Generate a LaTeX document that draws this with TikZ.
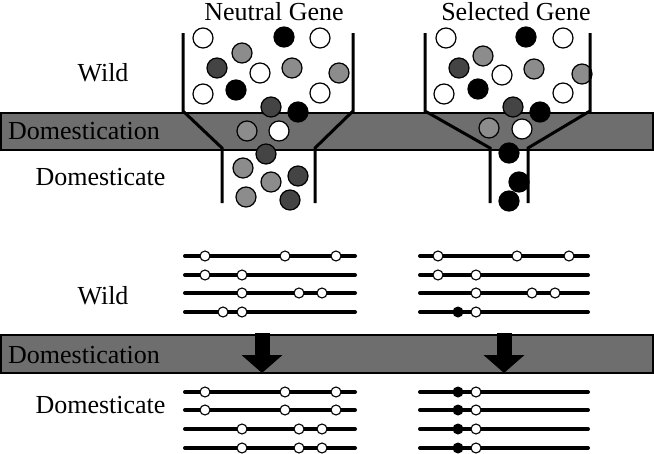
\documentclass[tikz,border=0pt]{standalone}
\usepackage{fontspec}
\setmainfont{Liberation Serif}
\usetikzlibrary{arrows.meta}

\definecolor{bandgray}{RGB}{110,110,110}
\definecolor{ballgray}{RGB}{140,140,140}
\definecolor{balldark}{RGB}{68,68,68}

\tikzset{
    lbl/.style={font=\fontsize{26}{30}\selectfont, inner sep=0pt},
    band/.style={draw=black, fill=bandgray, line width=1.2pt},
    wall/.style={line width=3pt},
    ball/.style={draw=black, line width=1.2pt},
    chrom/.style={line width=4pt, line cap=round},
    snp/.style={draw=black, line width=1.1pt, fill=white},
}

\begin{document}
\begin{tikzpicture}[x=1pt, y=-1pt]
    \useasboundingbox (0,0) rectangle (654,453);
    % Domestication bands
    \draw[band] (1,113) rectangle (653,150);
    \draw[band] (1,335) rectangle (653,373);
    \node[lbl, anchor=base west] (domA) at (8,139) {Domestication};
    \node[lbl, anchor=base west] (domB) at (8,363) {Domestication};
    % Row labels
    \node[lbl, anchor=base] (wildA) at (103,81) {Wild};
    \node[lbl, anchor=base] (domcA) at (100.5,185) {Domesticate};
    \node[lbl, anchor=base] (wildB) at (103,304) {Wild};
    \node[lbl, anchor=base] (domcB) at (100.5,413) {Domesticate};
    % Column titles
    \node[lbl, anchor=base] (neutral) at (274,20) {Neutral Gene};
    \node[lbl, anchor=base] (selected) at (516,20) {Selected Gene};
    % Neutral gene balls
    \foreach \x/\y/\c in {203/38/white, 284/37/black, 320/38/white,
                          242/53/ballgray, 217/68/balldark, 260/73/white,
                          292/68/ballgray, 339/73/ballgray, 203/94/white,
                          236/90/black, 320/93/white, 271/107/balldark,
                          298/112/black, 247/131/ballgray, 279/131/white,
                          266/154/balldark, 243/168/ballgray, 298/176/balldark,
                          271/182/ballgray, 246/197/ballgray, 290/200/balldark}
        \draw[ball, fill=\c] (\x,\y) circle (10pt);
    % Selected gene balls
    \foreach \x/\y/\c in {446/38/white, 526/37/black, 563/38/white,
                          483/56/ballgray, 459/68/balldark, 502/75/white,
                          534/69/ballgray, 582/74/ballgray, 444/94/white,
                          478/89/black, 563/93/white, 513/107/balldark,
                          540/112/black, 489/128/ballgray, 522/129/white,
                          509/153/black, 519/182/black, 509/201/black}
        \draw[ball, fill=\c] (\x,\y) circle (10pt);
    % Funnels
    \draw[wall] (183,33) -- (183,111) -- (222,148) -- (222,203);
    \draw[wall] (353,33) -- (353,111) -- (315,148) -- (315,203);
    \draw[wall] (425,33) -- (425,111) -- (490,148) -- (490,203);
    \draw[wall] (590,33) -- (590,111) -- (528,148) -- (528,203);
    % Chromosomes, wild
    \foreach \y/\snps in {256/{205,285,336}, 275/{205,242},
                          293/{242,299,322}, 312/{223,242}} {
        \draw[chrom] (185,\y) -- (355,\y);
        \foreach \s in \snps
            \draw[snp] (\s,\y) circle (5pt);
    }
    \foreach \y/\snps in {256/{438,517,569}, 275/{438,476},
                          293/{476,532,555}, 312/{476}} {
        \draw[chrom] (420,\y) -- (588,\y);
        \foreach \s in \snps
            \draw[snp] (\s,\y) circle (5pt);
    }
    \fill (458,312) circle (5.5pt);
    % Arrows
    \draw[-{Triangle[length=18pt, width=40pt]}, line width=15pt] (262,333) -- (262,373);
    \draw[-{Triangle[length=18pt, width=40pt]}, line width=15pt] (504,333) -- (504,373);
    % Chromosomes, domesticate
    \foreach \y/\snps in {392/{205,285,336}, 410/{205,285,336},
                          429/{242,299,322}, 448/{242,299,322}} {
        \draw[chrom] (185,\y) -- (355,\y);
        \foreach \s in \snps
            \draw[snp] (\s,\y) circle (5pt);
    }
    \foreach \y in {392,410,429,448} {
        \draw[chrom] (420,\y) -- (588,\y);
        \fill (458,\y) circle (5.5pt);
        \draw[snp] (476,\y) circle (5pt);
    }
\end{tikzpicture}
\end{document}
